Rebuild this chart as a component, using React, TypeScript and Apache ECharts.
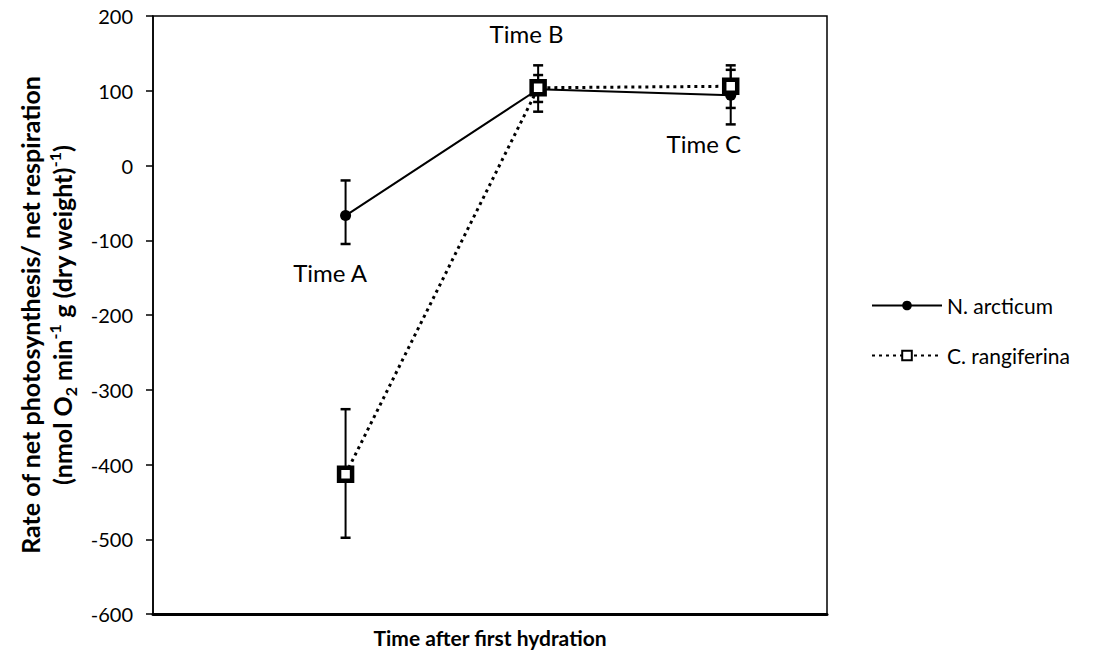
import React, { useEffect, useRef } from "react";
import * as echarts from "echarts";

const timePoints = [1, 2, 3];
const seriesNames = ["N. arcticum", "C. rangiferina"];
const nArcticum = [-67, 102, 94];
const nArcticumLow = [-105, 72, 55];
const nArcticumHigh = [-20, 134, 134];
const cRangiferina = [-413, 104, 106];
const cRangiferinaLow = [-498, 85, 77];
const cRangiferinaHigh = [-326, 121, 128];
const annotationLabels = ["Time A", "Time B", "Time C"];
const annotationX = [0.92, 1.94, 2.86];
const annotationY = [-143, 177, 30];
const yTicks = { min: -600, max: 200, interval: 100 };

const FONT = "Lato, 'Open Sans', sans-serif";

export default function App() {
  const ref = useRef<HTMLDivElement>(null);
  useEffect(() => {
    if (!ref.current) return;
    const chart = echarts.init(ref.current, null, { renderer: "svg" });

    const errRender = (params: any, api: any) => {
      const x = api.value(0);
      const lo = api.coord([x, api.value(1)]);
      const hi = api.coord([x, api.value(2)]);
      const hw = 5;
      const st = { stroke: "#000", lineWidth: 2 };
      const cap = { stroke: "#000", lineWidth: 2.5 };
      return {
        type: "group",
        children: [
          { type: "line", shape: { x1: lo[0], y1: lo[1], x2: hi[0], y2: hi[1] }, style: st },
          { type: "line", shape: { x1: lo[0] - hw, y1: lo[1], x2: lo[0] + hw, y2: lo[1] }, style: cap },
          { type: "line", shape: { x1: hi[0] - hw, y1: hi[1], x2: hi[0] + hw, y2: hi[1] }, style: cap },
        ],
      };
    };

    chart.setOption({
      animation: false,
      backgroundColor: "#fff",
      grid: {
        left: 153,
        top: 16,
        right: 276,
        bottom: 36,
        show: true,
        borderColor: "#000",
        borderWidth: 1.5,
        containLabel: false,
        outerBoundsMode: "none",
      },
      legend: {
        orient: "vertical",
        left: 866,
        top: 290,
        itemWidth: 70,
        itemHeight: 12,
        itemGap: 29,
        data: seriesNames,
        textStyle: { fontFamily: FONT, fontSize: 21, color: "#000", padding: [0, 0, 0, 0] },
      },
      xAxis: {
        type: "value",
        min: 0,
        max: 3.5,
        name: "Time after first hydration",
        nameLocation: "middle",
        nameGap: 13,
        nameTextStyle: { fontFamily: FONT, fontSize: 21, fontWeight: "bold", color: "#000" },
        axisLine: { show: true, onZero: false, lineStyle: { color: "#000", width: 3 } },
        axisTick: { show: false },
        axisLabel: { show: false },
        splitLine: { show: false },
      },
      yAxis: {
        type: "value",
        min: yTicks.min,
        max: yTicks.max,
        interval: yTicks.interval,
        name:
          "Rate of net photosynthesis/ net respiration\n{n|(nmol O}{sub|2}{n| min}{sup|-1}{n| g (dry weight)}{sup|-1}{n|)}",
        nameLocation: "middle",
        nameRotate: 90,
        nameGap: 75,
        nameTextStyle: {
          fontFamily: FONT,
          fontSize: 25,
          fontWeight: "bold",
          color: "#000",
          lineHeight: 32,
          rich: {
            n: { fontFamily: FONT, fontSize: 25, fontWeight: "bold", color: "#000", lineHeight: 32 },
            sub: { fontFamily: FONT, fontSize: 16, fontWeight: "bold", color: "#000", verticalAlign: "bottom", lineHeight: 32 },
            sup: { fontFamily: FONT, fontSize: 16, fontWeight: "bold", color: "#000", verticalAlign: "top", lineHeight: 32 },
          },
        },
        axisLine: { show: true, lineStyle: { color: "#000", width: 1.5 } },
        axisTick: { show: true, inside: false, length: 7, lineStyle: { color: "#000", width: 1.5 } },
        axisLabel: { fontFamily: FONT, fontSize: 20, color: "#000", margin: 20 },
        splitLine: { show: false },
      },
      series: [
        {
          name: "errN",
          type: "custom",
          renderItem: errRender,
          encode: { x: 0, y: [1, 2] },
          data: timePoints.map((t, i) => [t, nArcticumLow[i], nArcticumHigh[i]]),
          z: 1,
        },
        {
          name: "errC",
          type: "custom",
          renderItem: errRender,
          encode: { x: 0, y: [1, 2] },
          data: timePoints.map((t, i) => [t, cRangiferinaLow[i], cRangiferinaHigh[i]]),
          z: 1,
        },
        {
          name: seriesNames[0],
          type: "line",
          data: timePoints.map((t, i) => [t, nArcticum[i]]),
          symbol: "circle",
          symbolSize: 11,
          itemStyle: { color: "#000" },
          lineStyle: { color: "#000", width: 2, type: "solid" },
          z: 3,
        },
        {
          name: seriesNames[1],
          type: "line",
          data: timePoints.map((t, i) => [t, cRangiferina[i]]),
          symbol: "rect",
          symbolSize: 13,
          itemStyle: { color: "#fff", borderColor: "#000", borderWidth: 4.5 },
          lineStyle: { color: "#000", width: 3, type: [3, 4] },
          z: 4,
        },
        {
          name: "annotations",
          type: "scatter",
          symbolSize: 0,
          silent: true,
          itemStyle: { opacity: 1 },
          data: annotationLabels.map((l, i) => ({ value: [annotationX[i], annotationY[i]], name: l })),
          label: {
            show: true,
            position: "inside",
            formatter: (p: any) => p.name,
            fontFamily: FONT,
            fontSize: 24,
            color: "#000",
            opacity: 1,
            textBorderWidth: 0,
          },
        },
      ],
    });
    return () => chart.dispose();
  }, []);
  return (
    <div
      ref={ref}
      style={{ position: "fixed", left: 0, top: 0, width: 1103, height: 650, background: "#fff" }}
    />
  );
}
